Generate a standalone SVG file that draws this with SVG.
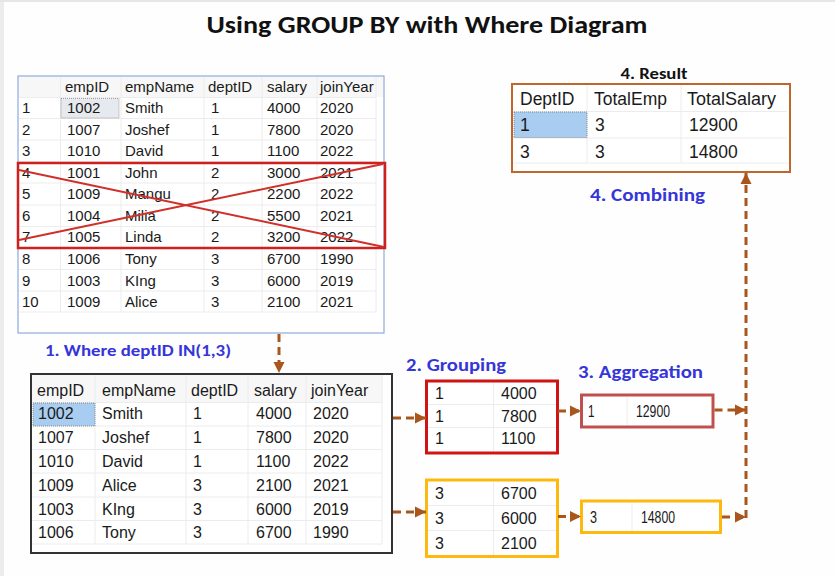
<svg xmlns="http://www.w3.org/2000/svg" width="835" height="576" viewBox="0 0 835 576">
<defs>
<style>
.t{font-family:"Liberation Sans",Arial,sans-serif;fill:#1a1a1a}
.t14{font-size:15px}
.t15{font-size:16px}
.tg{font-size:16px}
.ta{font-size:16.5px}
.t17{font-size:17.5px}
.lbl{font-family:Carlito,"Open Sans","Liberation Sans",sans-serif;font-weight:bold;fill:#3535d8}
.grid{stroke:#ececec;stroke-width:1;fill:none}
.conn{stroke:#a8561c;stroke-width:3;fill:none;stroke-dasharray:8 5}
</style>
<marker id="ah" markerUnits="userSpaceOnUse" markerWidth="12" markerHeight="12" refX="11" refY="6" orient="auto">
<path d="M0,0.5 L11,6 L0,11.5 Z" fill="#a8561c"/>
</marker>
</defs>
<rect x="0" y="0" width="835" height="576" fill="#fefefe"/>
<rect x="0" y="0" width="4" height="576" fill="#ececec"/>
<rect x="0" y="0" width="835" height="2" fill="#e6e6e6"/>

<g id="title">
<text x="427" y="33" text-anchor="middle" font-family="Carlito,'Open Sans','Liberation Sans',sans-serif" font-weight="bold" font-size="24" fill="#111" textLength="441" lengthAdjust="spacingAndGlyphs">Using GROUP BY with Where Diagram</text>
</g>

<g id="source-table">
<rect x="18" y="76" width="366" height="257" fill="#ffffff" stroke="#8eaadb" stroke-width="1.2"/>
<rect x="19" y="77" width="364" height="20" fill="#f7f7f7"/>
<path class="grid" d="M60.5,77V312 M121,77V312 M204,77V312 M262,77V312 M317,77V312 M376,77V312 M19,97.5H376 M19,118.5H376 M19,140H376 M19,161.5H376 M19,183H376 M19,205H376 M19,226.5H376 M19,248H376 M19,269.5H376 M19,291H376 M19,312H376"/>
<rect x="61" y="98.5" width="58" height="19.5" fill="#e6e9ee" stroke="#888" stroke-width="0.8" stroke-dasharray="1 1"/>
<g class="t t14">
<text x="65" y="92">empID</text><text x="125" y="92">empName</text><text x="208" y="92">deptID</text><text x="267" y="92">salary</text><text x="320" y="92">joinYear</text>
<text x="22" y="113">1</text><text x="67" y="113">1002</text><text x="125" y="113">Smith</text><text x="211" y="113">1</text><text x="267" y="113">4000</text><text x="320" y="113">2020</text>
<text x="22" y="134.5">2</text><text x="67" y="134.5">1007</text><text x="125" y="134.5">Joshef</text><text x="211" y="134.5">1</text><text x="267" y="134.5">7800</text><text x="320" y="134.5">2020</text>
<text x="22" y="156">3</text><text x="67" y="156">1010</text><text x="125" y="156">David</text><text x="211" y="156">1</text><text x="267" y="156">1100</text><text x="320" y="156">2022</text>
<text x="22" y="177.5">4</text><text x="67" y="177.5">1001</text><text x="125" y="177.5">John</text><text x="211" y="177.5">2</text><text x="267" y="177.5">3000</text><text x="320" y="177.5">2021</text>
<text x="22" y="199">5</text><text x="67" y="199">1009</text><text x="125" y="199">Mangu</text><text x="211" y="199">2</text><text x="267" y="199">2200</text><text x="320" y="199">2022</text>
<text x="22" y="220.5">6</text><text x="67" y="220.5">1004</text><text x="125" y="220.5">Milia</text><text x="211" y="220.5">2</text><text x="267" y="220.5">5500</text><text x="320" y="220.5">2021</text>
<text x="22" y="242">7</text><text x="67" y="242">1005</text><text x="125" y="242">Linda</text><text x="211" y="242">2</text><text x="267" y="242">3200</text><text x="320" y="242">2022</text>
<text x="22" y="264">8</text><text x="67" y="264">1006</text><text x="125" y="264">Tony</text><text x="211" y="264">3</text><text x="267" y="264">6700</text><text x="320" y="264">1990</text>
<text x="22" y="285.5">9</text><text x="67" y="285.5">1003</text><text x="125" y="285.5">KIng</text><text x="211" y="285.5">3</text><text x="267" y="285.5">6000</text><text x="320" y="285.5">2019</text>
<text x="22" y="307">10</text><text x="67" y="307">1009</text><text x="125" y="307">Alice</text><text x="211" y="307">3</text><text x="267" y="307">2100</text><text x="320" y="307">2021</text>
</g>
</g>

<g id="excluded-rows">
<rect x="18" y="163" width="367" height="85" fill="none" stroke="#d01f1f" stroke-width="2.5"/>
<line x1="19" y1="170" x2="384" y2="247" stroke="#d0302a" stroke-width="2"/>
<line x1="19" y1="240" x2="383" y2="164" stroke="#d0302a" stroke-width="2"/>
</g>

<g id="label-where">
<text class="lbl" x="45" y="356" font-size="16" textLength="186" lengthAdjust="spacingAndGlyphs">1. Where deptID IN(1,3)</text>
</g>

<g id="filtered-table">
<rect x="31" y="374" width="361" height="179" fill="#ffffff" stroke="#333" stroke-width="2"/>
<rect x="32" y="375" width="350" height="27" fill="#f7f7f7"/>
<path class="grid" d="M95,375V544 M186,375V544 M248,375V544 M306,375V544 M382,375V544 M32,402.5H382 M32,426H382 M32,449.5H382 M32,473H382 M32,497H382 M32,520.5H382 M32,544H382"/>
<rect x="33" y="403" width="62" height="23" fill="#a9cdf0" stroke="#777" stroke-width="0.8" stroke-dasharray="1 1"/>
<g class="t t15">
<text x="37" y="395.5">empID</text><text x="102" y="395.5">empName</text><text x="191" y="395.5">deptID</text><text x="254" y="395.5">salary</text><text x="311" y="395.5">joinYear</text>
<text x="38" y="419">1002</text><text x="102" y="419">Smith</text><text x="193" y="419">1</text><text x="256" y="419">4000</text><text x="313" y="419">2020</text>
<text x="38" y="443">1007</text><text x="102" y="443">Joshef</text><text x="193" y="443">1</text><text x="256" y="443">7800</text><text x="313" y="443">2020</text>
<text x="38" y="466.5">1010</text><text x="102" y="466.5">David</text><text x="193" y="466.5">1</text><text x="256" y="466.5">1100</text><text x="313" y="466.5">2022</text>
<text x="38" y="490.5">1009</text><text x="102" y="490.5">Alice</text><text x="193" y="490.5">3</text><text x="256" y="490.5">2100</text><text x="313" y="490.5">2021</text>
<text x="38" y="514.5">1003</text><text x="102" y="514.5">KIng</text><text x="193" y="514.5">3</text><text x="256" y="514.5">6000</text><text x="313" y="514.5">2019</text>
<text x="38" y="537.5">1006</text><text x="102" y="537.5">Tony</text><text x="193" y="537.5">3</text><text x="256" y="537.5">6700</text><text x="313" y="537.5">1990</text>
</g>
</g>

<g id="label-grouping">
<text class="lbl" x="406" y="371" font-size="19" textLength="100" lengthAdjust="spacingAndGlyphs">2. Grouping</text>
</g>
<g id="label-aggregation">
<text class="lbl" x="578" y="378" font-size="19" textLength="125" lengthAdjust="spacingAndGlyphs">3. Aggregation</text>
</g>

<g id="group-dept1">
<rect x="426.5" y="381" width="131" height="72" fill="#ffffff" stroke="#d01414" stroke-width="3"/>
<path class="grid" d="M493.5,383V451 M428,404.5H556 M428,427.5H556"/>
<g class="t tg">
<text x="435" y="399">1</text><text x="501" y="399">4000</text>
<text x="435" y="422">1</text><text x="501" y="422">7800</text>
<text x="435" y="444">1</text><text x="501" y="444">1100</text>
</g>
</g>

<g id="group-dept3">
<rect x="426.5" y="480" width="131" height="76.5" fill="#ffffff" stroke="#fdb90f" stroke-width="3"/>
<path class="grid" d="M493.5,482V555 M428,505.5H556 M428,530.5H556"/>
<g class="t tg">
<text x="435" y="499">3</text><text x="501" y="499">6700</text>
<text x="435" y="524">3</text><text x="501" y="524">6000</text>
<text x="435" y="549">3</text><text x="501" y="549">2100</text>
</g>
</g>

<g id="agg-dept1">
<rect x="581.5" y="395" width="131.5" height="32" fill="#ffffff" stroke="#c0504d" stroke-width="3"/>
<path class="grid" d="M627,397V425"/>
<g class="t ta">
<text x="588" y="417" textLength="6.5" lengthAdjust="spacingAndGlyphs">1</text><text x="636" y="417" textLength="34" lengthAdjust="spacingAndGlyphs">12900</text>
</g>
</g>

<g id="agg-dept3">
<rect x="581.5" y="501" width="139" height="31.5" fill="#ffffff" stroke="#fdb90f" stroke-width="3"/>
<path class="grid" d="M632,503V531"/>
<g class="t ta">
<text x="590" y="522.5" textLength="7" lengthAdjust="spacingAndGlyphs">3</text><text x="641" y="522.5" textLength="34" lengthAdjust="spacingAndGlyphs">14800</text>
</g>
</g>

<g id="result">
<text x="654" y="79" text-anchor="middle" font-family="Carlito,'Open Sans','Liberation Sans',sans-serif" font-weight="bold" font-size="16" fill="#111" textLength="67" lengthAdjust="spacingAndGlyphs">4. Result</text>
<rect x="512" y="84" width="278" height="88" fill="#ffffff" stroke="#c0662a" stroke-width="2"/>
<path class="grid" d="M587,85V163 M681,85V163 M513,111.5H787 M513,138H787 M513,163H787"/>
<rect x="514" y="112" width="73" height="25.5" fill="#a9cdf0" stroke="#777" stroke-width="0.8" stroke-dasharray="1 1"/>
<g class="t t17">
<text x="520" y="104.5">DeptID</text><text x="594" y="104.5">TotalEmp</text><text x="687" y="104.5" textLength="89" lengthAdjust="spacingAndGlyphs">TotalSalary</text>
<text x="520" y="130.5">1</text><text x="595" y="130.5">3</text><text x="689" y="130.5">12900</text>
<text x="520" y="158">3</text><text x="595" y="158">3</text><text x="689" y="158">14800</text>
</g>
</g>

<g id="label-combining">
<text class="lbl" x="590" y="201" font-size="19" textLength="115" lengthAdjust="spacingAndGlyphs">4. Combining</text>
</g>

<g id="connectors">
<path class="conn" d="M279,334V373" marker-end="url(#ah)"/>
<path class="conn" d="M393,418H426" marker-end="url(#ah)"/>
<path class="conn" d="M393,512H426" marker-end="url(#ah)"/>
<path class="conn" d="M558,411H581" marker-end="url(#ah)"/>
<path class="conn" d="M558,516.5H581" marker-end="url(#ah)"/>
<path class="conn" d="M714.5,410H746" marker-end="url(#ah)"/>
<path class="conn" d="M722,517H746" marker-end="url(#ah)"/>
<path class="conn" d="M746,518V173" marker-end="url(#ah)"/>
</g>
</svg>
